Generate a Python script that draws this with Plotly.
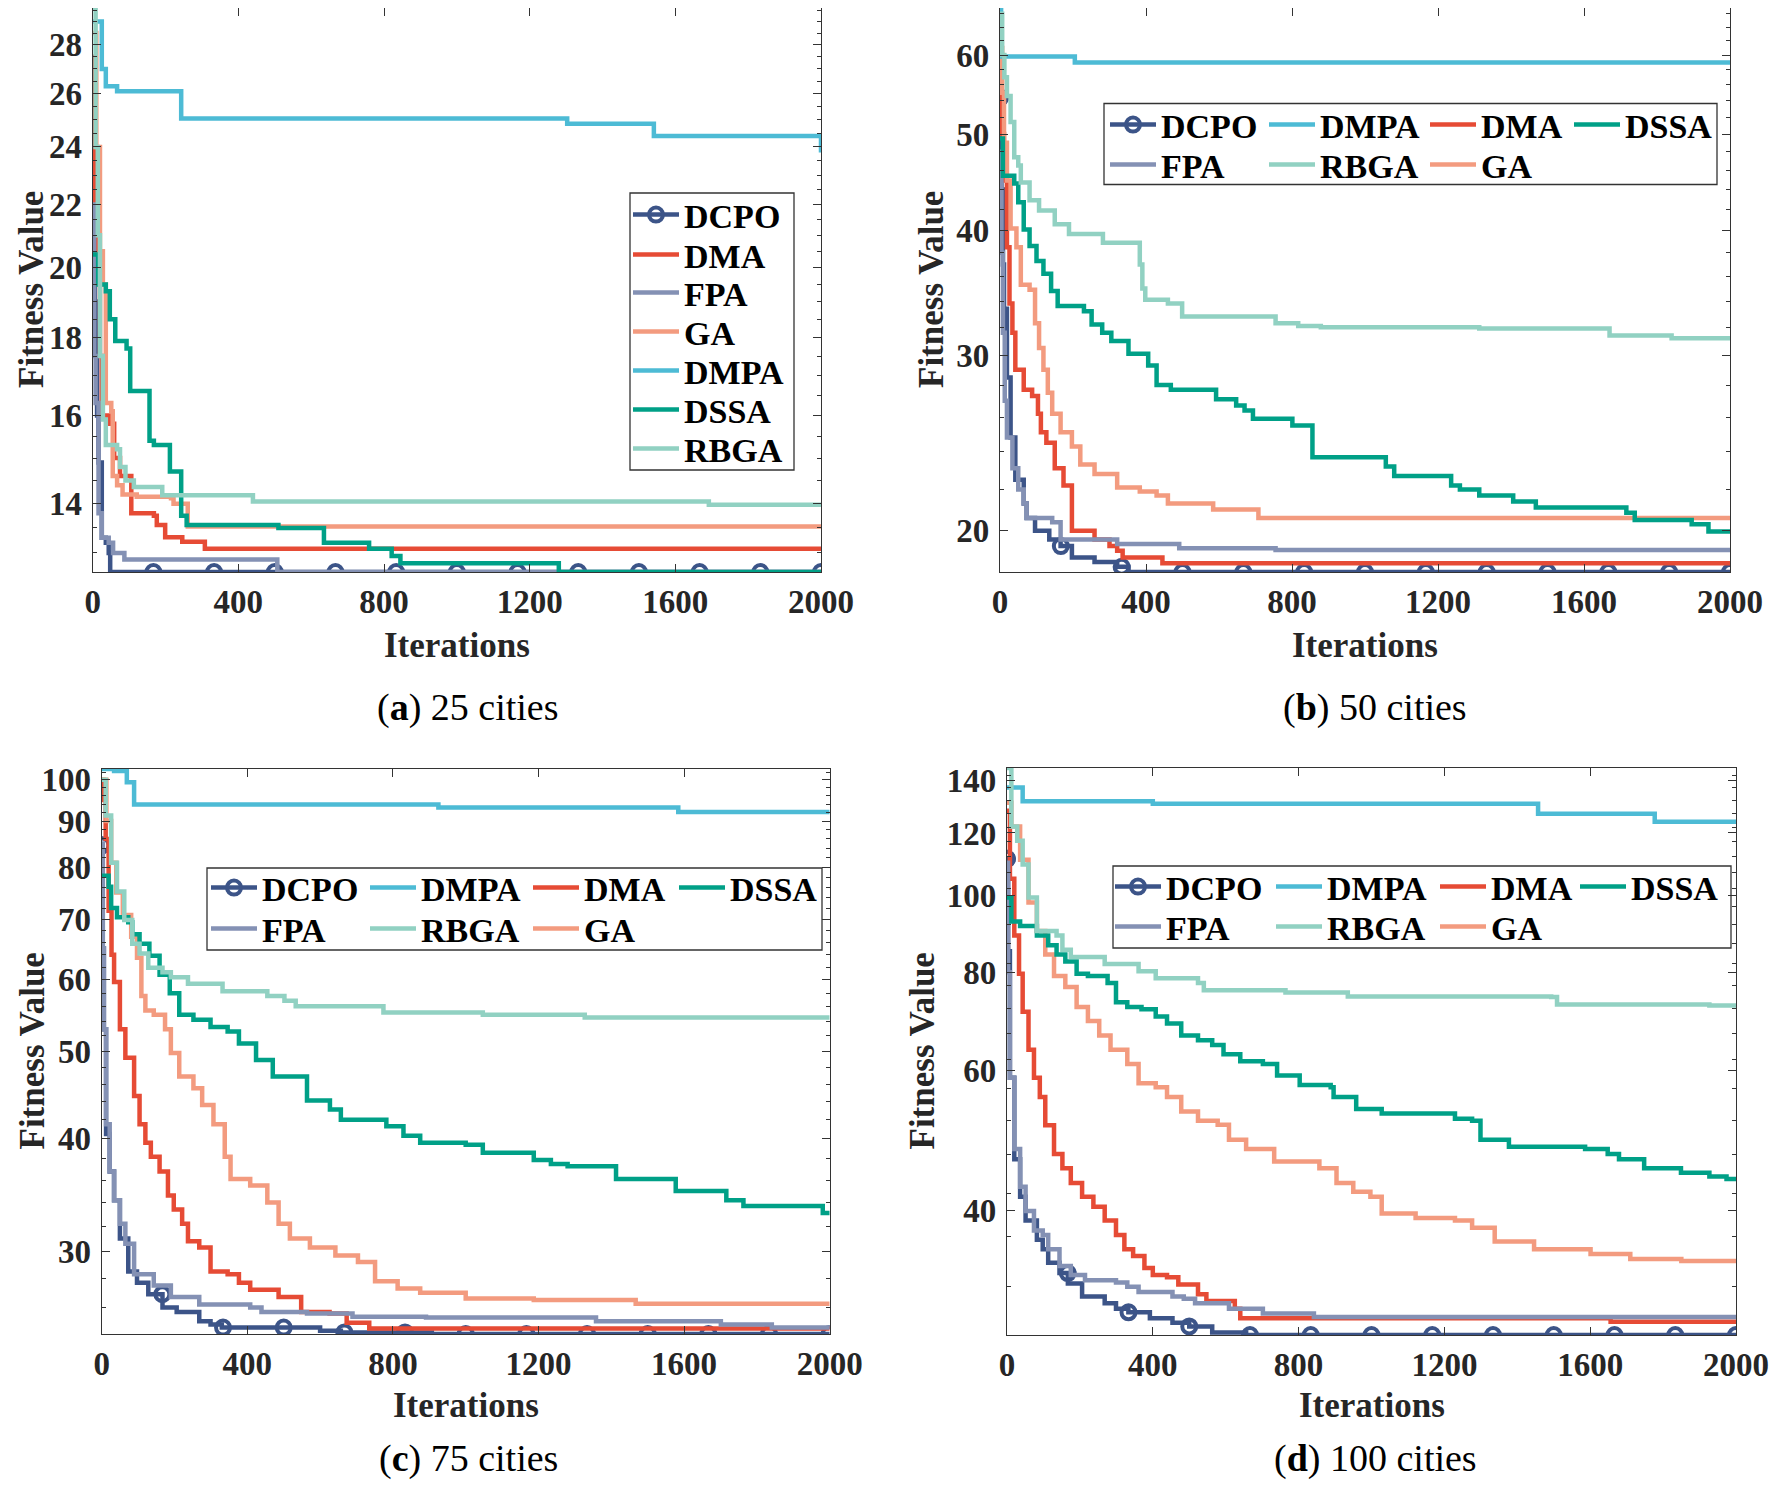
import numpy as np
import plotly.graph_objects as go
from plotly.subplots import make_subplots

W, H = 1778, 1489
PAGE_MARGIN = 8  # default body margin of the page around the plot div
FONT = "Liberation Serif"

# convergence curves: iteration where the best fitness
# changes, and the value it changes to (drawn as steps)

# (a) 25 cities
a_dcpo_it = [0, 6, 12, 16, 25, 36, 44, 48, 2000]
a_dcpo = [23.4, 19.0, 16.0, 14.9, 13.3, 13.2, 13.0, 12.63, 12.63]
a_dma_it = [0, 5, 10, 20, 25, 44, 59, 75, 106, 168, 176, 199, 246, 308, 2000]
a_dma = [27.5, 22.0, 19.5, 17.5, 16.0, 15.8, 15.0, 14.6, 13.8, 13.75, 13.56, 13.31, 13.22, 13.08, 13.08]
a_fpa_it = [0, 4, 8, 16, 25, 44, 56, 87, 507, 2000]
a_fpa = [22.0, 17.5, 16.3, 13.8, 13.3, 13.2, 13.0, 12.87, 12.63, 12.63]
a_ga_it = [0, 10, 20, 28, 36, 51, 55, 67, 82, 121, 215, 222, 261, 2000]
a_ga = [28.5, 24.0, 20.5, 19.5, 16.3, 16.1, 14.6, 14.4, 14.2, 14.15, 14.12, 14.0, 13.53, 13.53]
a_dmpa_it = [0, 25, 36, 67, 243, 1303, 1541, 2000]
a_dmpa = [29.0, 27.0, 26.3, 26.1, 25.05, 24.85, 24.4, 23.8]
a_dssa_it = [0, 15, 36, 47, 62, 93, 103, 156, 168, 212, 243, 258, 510, 635, 759, 821, 845, 1280, 2000]
a_dssa = [20.4, 19.5, 19.3, 18.5, 17.9, 17.7, 16.6, 15.4, 15.3, 14.7, 13.75, 13.56, 13.5, 13.2, 13.08, 12.94, 12.8, 12.63, 12.63]
a_rbga_it = [0, 8, 14, 20, 28, 36, 67, 75, 90, 113, 191, 440, 1692, 2000]
a_rbga = [29.6, 24.0, 21.0, 17.5, 15.9, 15.3, 15.2, 14.8, 14.5, 14.36, 14.18, 14.05, 13.98, 13.98]

# (b) 50 cities
b_dcpo_it = [0, 4, 8, 11, 19, 29, 42, 65, 73, 96, 135, 166, 197, 259, 321, 352, 2000]
b_dcpo = [54.4, 44.0, 37.0, 33.4, 28.5, 24.8, 22.5, 21.3, 20.6, 20.0, 19.6, 19.3, 18.8, 18.6, 18.4, 18.18, 18.18]
b_dma_it = [0, 5, 11, 19, 26, 34, 42, 65, 88, 104, 112, 127, 150, 174, 197, 259, 300, 321, 336, 445, 2000]
b_dma = [58.0, 50.0, 44.9, 38.5, 33.8, 31.6, 29.0, 27.7, 27.3, 26.2, 25.1, 24.5, 23.1, 22.2, 20.0, 19.6, 19.3, 19.1, 18.8, 18.55, 18.55]
b_fpa_it = [0, 4, 8, 13, 19, 34, 50, 65, 73, 143, 166, 321, 491, 755, 2000]
b_fpa = [48.0, 38.0, 31.6, 27.0, 24.8, 23.1, 22.0, 21.3, 20.6, 20.4, 19.6, 19.4, 19.2, 19.13, 19.13]
b_ga_it = [0, 6, 11, 19, 29, 45, 57, 81, 96, 107, 119, 131, 143, 166, 197, 220, 259, 321, 383, 429, 460, 584, 708, 2000]
b_ga = [61.0, 55.0, 49.0, 44.9, 40.2, 38.5, 35.3, 34.9, 32.3, 30.5, 29.0, 27.5, 26.2, 25.1, 24.3, 23.3, 22.8, 22.1, 21.9, 21.7, 21.3, 21.0, 20.6, 20.6]
b_dmpa_it = [0, 3, 205, 2000]
b_dmpa = [66.9, 59.8, 59.0, 59.0]
b_dssa_it = [0, 8, 39, 50, 65, 81, 100, 119, 140, 158, 230, 251, 280, 305, 352, 406, 429, 468, 592, 647,
             670, 693, 801, 856, 1057, 1080, 1236, 1260, 1313, 1406, 1468, 1716, 1739, 1895, 1941, 2000]
b_dssa = [49.5, 45.4, 44.6, 42.7, 40.1, 38.6, 37.3, 36.2, 34.8, 33.6, 33.2, 32.2, 31.6, 31.0, 30.1, 29.3, 28.0, 27.7, 27.1, 26.7,
          26.4, 25.9, 25.5, 23.7, 23.2, 22.7, 22.2, 22.0, 21.7, 21.4, 21.1, 20.85, 20.5, 20.3, 19.96, 19.96]
b_rbga_it = [0, 6, 12, 19, 29, 39, 50, 57, 81, 107, 150, 189, 282, 383, 390, 398, 460, 499, 755, 817, 879, 1313, 1670, 1840, 2000]
b_rbga = [66.0, 60.0, 57.0, 54.6, 51.4, 47.4, 46.5, 44.7, 42.9, 41.9, 40.6, 39.7, 38.9, 37.0, 35.0, 34.1, 33.8, 32.8, 32.3, 32.1, 32.0, 31.9, 31.4, 31.2, 31.2]

# (c) 75 cities
c_dcpo_it = [0, 3, 6, 12, 22, 34, 50, 73, 97, 128, 167, 206, 268, 299, 330, 600, 657, 907, 2000]
c_dcpo = [84.6, 65.0, 52.9, 40.5, 36.8, 34.2, 31.0, 28.5, 27.7, 26.9, 26.0, 25.7, 25.1, 24.9, 24.7, 24.5, 24.4, 24.3, 24.3]
c_dma_it = [0, 5, 11, 19, 27, 34, 50, 65, 89, 104, 120, 135, 159, 182, 198, 221, 237, 268, 299, 346,
            377, 408, 486, 548, 626, 673, 735, 2000]
c_dma = [100, 95, 86.0, 71.6, 64.0, 59.7, 52.9, 49.2, 44.6, 41.5, 39.6, 38.2, 36.8, 34.6, 33.4, 32.2, 30.8, 30.3, 28.5, 28.3,
         27.7, 27.2, 26.7, 25.7, 25.6, 25.0, 24.65, 24.65]
c_fpa_it = [0, 3, 6, 12, 22, 34, 50, 65, 89, 143, 190, 268, 408, 439, 564, 689, 891, 1358, 1701, 1841, 2000]
c_fpa = [85, 65, 52.9, 41.5, 36.8, 34.2, 32.2, 30.6, 28.3, 27.5, 26.7, 26.2, 26.0, 25.7, 25.6, 25.4, 25.35, 25.1, 24.9, 24.7, 24.7]
c_ga_it = [0, 13, 26, 40, 58, 81, 97, 109, 120, 143, 174, 190, 213, 252, 276, 307, 338, 354, 408, 455,
           486, 517, 572, 642, 704, 751, 813, 875, 1000, 1187, 1467, 2000]
c_ga = [100, 90, 80.9, 75, 70.8, 67, 63.5, 57.6, 55.5, 54.9, 52.9, 49.8, 46.9, 45.5, 43.6, 41.5, 38.2, 36.1, 35.5, 34.0,
        32.2, 31.0, 30.3, 29.7, 29.2, 27.8, 27.3, 27.0, 26.6, 26.5, 26.25, 26.25]
c_dmpa_it = [0, 34, 69, 89, 925, 1584, 2000]
c_dmpa = [102.8, 102.3, 99.4, 93.9, 93.2, 92.1, 92.1]
c_dssa_it = [0, 19, 26, 42, 73, 84, 104, 131, 159, 187, 213, 252, 299, 346, 377, 424, 470, 564, 627, 657,
             782, 829, 875, 1000, 1047, 1187, 1234, 1280, 1413, 1577, 1716, 1763, 1981, 2000]
c_dssa = [78.3, 76.1, 72.1, 70.4, 69.5, 67.4, 65.8, 63.8, 60.8, 58.0, 54.9, 54.2, 53.2, 52.6, 51.0, 48.9, 46.9, 44.1, 43.1, 42.0,
          41.3, 40.3, 39.6, 39.4, 38.6, 37.9, 37.5, 37.3, 36.1, 35.0, 34.2, 33.7, 33.1, 33.1]
c_rbga_it = [0, 11, 26, 42, 62, 84, 104, 128, 167, 190, 237, 332, 455, 502, 533, 774, 1047, 1327, 2000]
c_rbga = [100, 91.3, 80.9, 75.2, 69.9, 65.8, 64.2, 61.9, 61.2, 60.4, 59.4, 58.3, 57.6, 56.9, 56.1, 55.2, 54.9, 54.5, 54.5]

# (d) 100 cities
d_dcpo_it = [0, 3, 8, 20, 36, 51, 82, 98, 113, 144, 167, 206, 268, 299, 333, 392, 454, 500, 563, 656, 2000]
d_dcpo = [111.3, 85, 58.8, 46.4, 41.6, 38.8, 36.7, 35.7, 34.3, 33.3, 32.3, 31.1, 30.5, 30.0, 29.7, 29.2, 28.8, 28.5, 28.0, 27.8, 27.8]
d_dma_it = [0, 8, 20, 33, 43, 59, 74, 90, 105, 129, 152, 175, 206, 237, 268, 299, 322, 346, 377, 400,
            439, 470, 524, 547, 625, 640, 1656, 2000]
d_dma = [128, 105, 89.0, 79.6, 71.3, 63.8, 58.8, 55.6, 51.2, 47.1, 45.2, 43.3, 41.6, 40.4, 38.8, 37.2, 35.7, 35.0, 33.8, 33.1,
         32.9, 32.2, 31.3, 30.7, 30.0, 29.2, 28.9, 28.9]
d_fpa_it = [0, 3, 8, 20, 36, 51, 74, 98, 113, 144, 175, 214, 299, 330, 361, 454, 485, 516, 609, 702, 842, 2000]
d_fpa = [110, 80, 58.8, 47.8, 42.8, 39.9, 37.7, 37.2, 35.7, 34.0, 33.1, 32.6, 32.4, 32.0, 31.5, 31.1, 30.9, 30.5, 30.0, 29.6, 29.3, 29.3]
d_ga_it = [0, 12, 36, 59, 82, 105, 129, 160, 191, 222, 253, 284, 330, 361, 408, 439, 478, 524, 578, 609,
           656, 733, 857, 904, 950, 997, 1028, 1121, 1229, 1276, 1338, 1446, 1601, 1710, 1850, 2000]
d_ga = [131, 122.3, 111.0, 98.0, 90.2, 84.2, 79.1, 76.6, 72.3, 69.4, 66.5, 63.8, 61.2, 57.9, 57.2, 55.6, 53.3, 51.9, 51.3, 49.1,
        47.8, 46.1, 45.2, 43.3, 42.2, 41.6, 39.6, 39.1, 38.8, 38.0, 36.5, 35.7, 35.2, 34.7, 34.5, 34.5]
d_dmpa_it = [0, 43, 400, 1457, 1777, 2000]
d_dmpa = [137, 131.6, 130.7, 126.9, 124.0, 124.0]
d_dssa_it = [0, 12, 36, 82, 113, 136, 160, 191, 222, 276, 299, 330, 369, 408, 439, 478, 524, 563, 594, 640,
             702, 741, 803, 888, 896, 958, 1028, 1229, 1276, 1299, 1377, 1586, 1648, 1679, 1748, 1849, 1927, 1974, 2000]
d_dssa = [99.4, 92.7, 91.5, 89.0, 86.5, 84.2, 82.5, 79.6, 79.1, 77.5, 73.3, 72.3, 71.8, 70.3, 68.9, 66.5, 65.6, 64.7, 63.0, 61.7,
          61.2, 59.2, 57.6, 57.2, 55.6, 53.7, 53.0, 52.2, 51.9, 49.1, 48.1, 47.8, 47.1, 46.4, 45.2, 44.6, 44.1, 43.8, 43.8]
d_rbga_it = [0, 12, 28, 43, 59, 82, 136, 152, 175, 268, 361, 408, 524, 540, 764, 935, 1493, 1509, 1927, 2000]
d_rbga = [145, 122.3, 117.3, 109.5, 99.4, 90.2, 89.0, 85.4, 83.6, 81.9, 80.2, 78.6, 77.5, 75.9, 75.4, 74.5, 74.4, 72.8, 72.6, 72.6]

# drawing order (DCPO first, so the others sit on top of it)
names = ["DCPO", "DMA", "FPA", "GA", "DMPA", "DSSA", "RBGA"]
colors = {"DCPO": "#3C5488", "DMA": "#E64B35", "FPA": "#8491B4", "GA": "#F39B7F",
          "DMPA": "#4DBBD5", "DSSA": "#00A087", "RBGA": "#91D1C2"}

data = {
    "a": {"DCPO": (a_dcpo_it, a_dcpo), "DMA": (a_dma_it, a_dma), "FPA": (a_fpa_it, a_fpa), "GA": (a_ga_it, a_ga),
          "DMPA": (a_dmpa_it, a_dmpa), "DSSA": (a_dssa_it, a_dssa), "RBGA": (a_rbga_it, a_rbga)},
    "b": {"DCPO": (b_dcpo_it, b_dcpo), "DMA": (b_dma_it, b_dma), "FPA": (b_fpa_it, b_fpa), "GA": (b_ga_it, b_ga),
          "DMPA": (b_dmpa_it, b_dmpa), "DSSA": (b_dssa_it, b_dssa), "RBGA": (b_rbga_it, b_rbga)},
    "c": {"DCPO": (c_dcpo_it, c_dcpo), "DMA": (c_dma_it, c_dma), "FPA": (c_fpa_it, c_fpa), "GA": (c_ga_it, c_ga),
          "DMPA": (c_dmpa_it, c_dmpa), "DSSA": (c_dssa_it, c_dssa), "RBGA": (c_rbga_it, c_rbga)},
    "d": {"DCPO": (d_dcpo_it, d_dcpo), "DMA": (d_dma_it, d_dma), "FPA": (d_fpa_it, d_fpa), "GA": (d_ga_it, d_ga),
          "DMPA": (d_dmpa_it, d_dmpa), "DSSA": (d_dssa_it, d_dssa), "RBGA": (d_rbga_it, d_rbga)},
}

x_ticks = [0, 400, 800, 1200, 1600, 2000]
y_ticks = {"a": [14, 16, 18, 20, 22, 24, 26, 28], "b": [20, 30, 40, 50, 60],
           "c": [30, 40, 50, 60, 70, 80, 90, 100], "d": [40, 60, 80, 100, 120, 140]}
captions = {"a": "(<b>a</b>) 25 cities", "b": "(<b>b</b>) 50 cities",
            "c": "(<b>c</b>) 75 cities", "d": "(<b>d</b>) 100 cities"}

# layout, in pixels of the 1778x1489 page
minor_step = {"a": 0.5, "b": 2, "c": 2, "d": 5}
boxes = {"a": (92.7, 821, 8, 572), "b": (1000, 1730, 8, 572),
         "c": (101.7, 829.7, 769, 1334), "d": (1007, 1736, 768, 1335)}
ylabel_x = {"a": 32, "b": 932, "c": 32, "d": 922}
xlabel_y = {"a": 645, "b": 645, "c": 1405, "d": 1405}
caption_y = {"a": 708, "b": 708, "c": 1458, "d": 1458}
caption_x = {"a": 468, "b": 1375, "c": 468, "d": 1375}
frames = {"a": (630, 193, 794, 470), "b": (1104, 103.5, 1717, 184.5),
          "c": (207, 868, 822, 950), "d": (1113, 866, 1731, 948)}
row_items = [["DCPO", "DMPA", "DMA", "DSSA"], ["FPA", "RBGA", "GA"]]
legend_pos = {"a": {n: (633, y) for n, y in zip(names, [215, 255, 293, 332, 371, 410, 449])}}
for key, cols, rows in [("b", [1110, 1269, 1430, 1574], [125, 165]),
                        ("c", [211, 370, 533, 679], [888, 929]),
                        ("d", [1115, 1276, 1440, 1580], [887, 927])]:
    legend_pos[key] = {}
    for r, items in enumerate(row_items):
        for c, n in enumerate(items):
            legend_pos[key][n] = (cols[c], rows[r])

FW, FH = W - 2 * PAGE_MARGIN, H - 2 * PAGE_MARGIN


def fx(px):
    return (px - PAGE_MARGIN) / FW


def fy(py):
    return 1 - (py - PAGE_MARGIN) / FH


def step_value(its, vals, q):
    idx = np.searchsorted(np.asarray(its), q, side="right") - 1
    return np.asarray(vals)[idx]


fig = make_subplots(rows=2, cols=2)
marker_its = np.linspace(0, 2000, 13)
tick_font = dict(family=FONT, size=33, color="#262626", weight="bold")
label_font = dict(family=FONT, size=35, color="#262626", weight="bold")
annotations = []
shapes = []
leg_n = 0

for k, key in enumerate(["a", "b", "c", "d"]):
    row, col = k // 2 + 1, k % 2 + 1
    for n in names:
        its, vals = data[key][n]
        leg_n += 1
        lname = "legend" if leg_n == 1 else "legend%d" % leg_n
        lx, ly = legend_pos[key][n]
        fig.update_layout({lname: dict(
            x=fx(lx - 5), y=fy(ly), xanchor="left", yanchor="middle",
            bgcolor="rgba(0,0,0,0)", borderwidth=0, itemwidth=46,
            font=dict(family=FONT, size=34, color="black", weight="bold"))})
        if n == "DCPO":
            fig.add_trace(go.Scatter(
                x=marker_its, y=step_value(its, vals, marker_its), mode="markers",
                marker=dict(symbol="circle-open", size=14, color=colors[n], line=dict(width=4)),
                showlegend=False, hoverinfo="skip"), row=row, col=col)
            fig.add_trace(go.Scatter(
                x=its, y=vals, name=n, mode="lines+markers", line=dict(color=colors[n], width=4.5, shape="hv"),
                marker=dict(symbol="circle-open", size=14, color=colors[n], line=dict(width=4), maxdisplayed=1),
                legend=lname), row=row, col=col)
        else:
            fig.add_trace(go.Scatter(
                x=its, y=vals, name=n, mode="lines", line=dict(color=colors[n], width=4.5, shape="hv"),
                legend=lname), row=row, col=col)

    all_vals = np.concatenate([np.asarray(data[key][n][1], float) for n in names])
    x0, x1, y0, y1 = boxes[key]
    fig.update_xaxes(
        domain=[fx(x0), fx(x1)], range=[0, 2000], tickmode="array", tickvals=x_ticks,
        ticks="inside", ticklen=8, tickwidth=1.2, tickcolor="#333", showline=True, linecolor="#333",
        linewidth=1.3, mirror="allticks", showgrid=False, zeroline=False, tickfont=tick_font,
        ticklabelstandoff=0, automargin=False, row=row, col=col)
    lo, hi = all_vals.min(), all_vals.max()
    minor_vals = np.arange(np.floor(lo), np.ceil(hi) + minor_step[key], minor_step[key])
    fig.update_yaxes(
        type="log", domain=[fy(y1), fy(y0)], range=[np.log10(lo), np.log10(hi)],
        tickmode="array", tickvals=y_ticks[key], ticktext=[str(v) for v in y_ticks[key]],
        ticks="inside", ticklen=8, tickwidth=1.2, tickcolor="#333", showline=True, linecolor="#333",
        linewidth=1.3, mirror="allticks", showgrid=False, zeroline=False, tickfont=tick_font,
        ticklabelstandoff=3, automargin=False,
        minor=dict(tickmode="array", tickvals=minor_vals, ticks="inside", ticklen=4,
                   tickwidth=1, tickcolor="#333", showgrid=False),
        row=row, col=col)

    cx = (x0 + x1) / 2
    annotations.append(dict(text="Iterations", x=fx(cx), y=fy(xlabel_y[key]), xref="paper", yref="paper",
                            showarrow=False, xanchor="center", yanchor="middle", font=label_font))
    annotations.append(dict(text="Fitness Value", x=fx(ylabel_x[key]), y=fy((y0 + y1) / 2), xref="paper",
                            yref="paper", showarrow=False, textangle=-90, xanchor="center", yanchor="middle",
                            borderpad=0, font=label_font))
    annotations.append(dict(text=captions[key], x=fx(caption_x[key]), y=fy(caption_y[key]), xref="paper",
                            yref="paper", showarrow=False, xanchor="center", yanchor="middle",
                            font=dict(family=FONT, size=38, color="black")))
    fl, ft, fr, fb = frames[key]
    shapes.append(dict(type="rect", xref="paper", yref="paper", x0=fx(fl), x1=fx(fr), y0=fy(fb), y1=fy(ft),
                       line=dict(color="#333", width=1.3), fillcolor="rgba(0,0,0,0)", layer="above"))

fig.update_layout(
    width=FW, height=FH, autosize=False, margin=dict(l=0, r=0, t=0, b=0, autoexpand=False),
    paper_bgcolor="white", plot_bgcolor="white",
    annotations=annotations, shapes=shapes, hovermode=False,
)

fig.write_html("out.html")
